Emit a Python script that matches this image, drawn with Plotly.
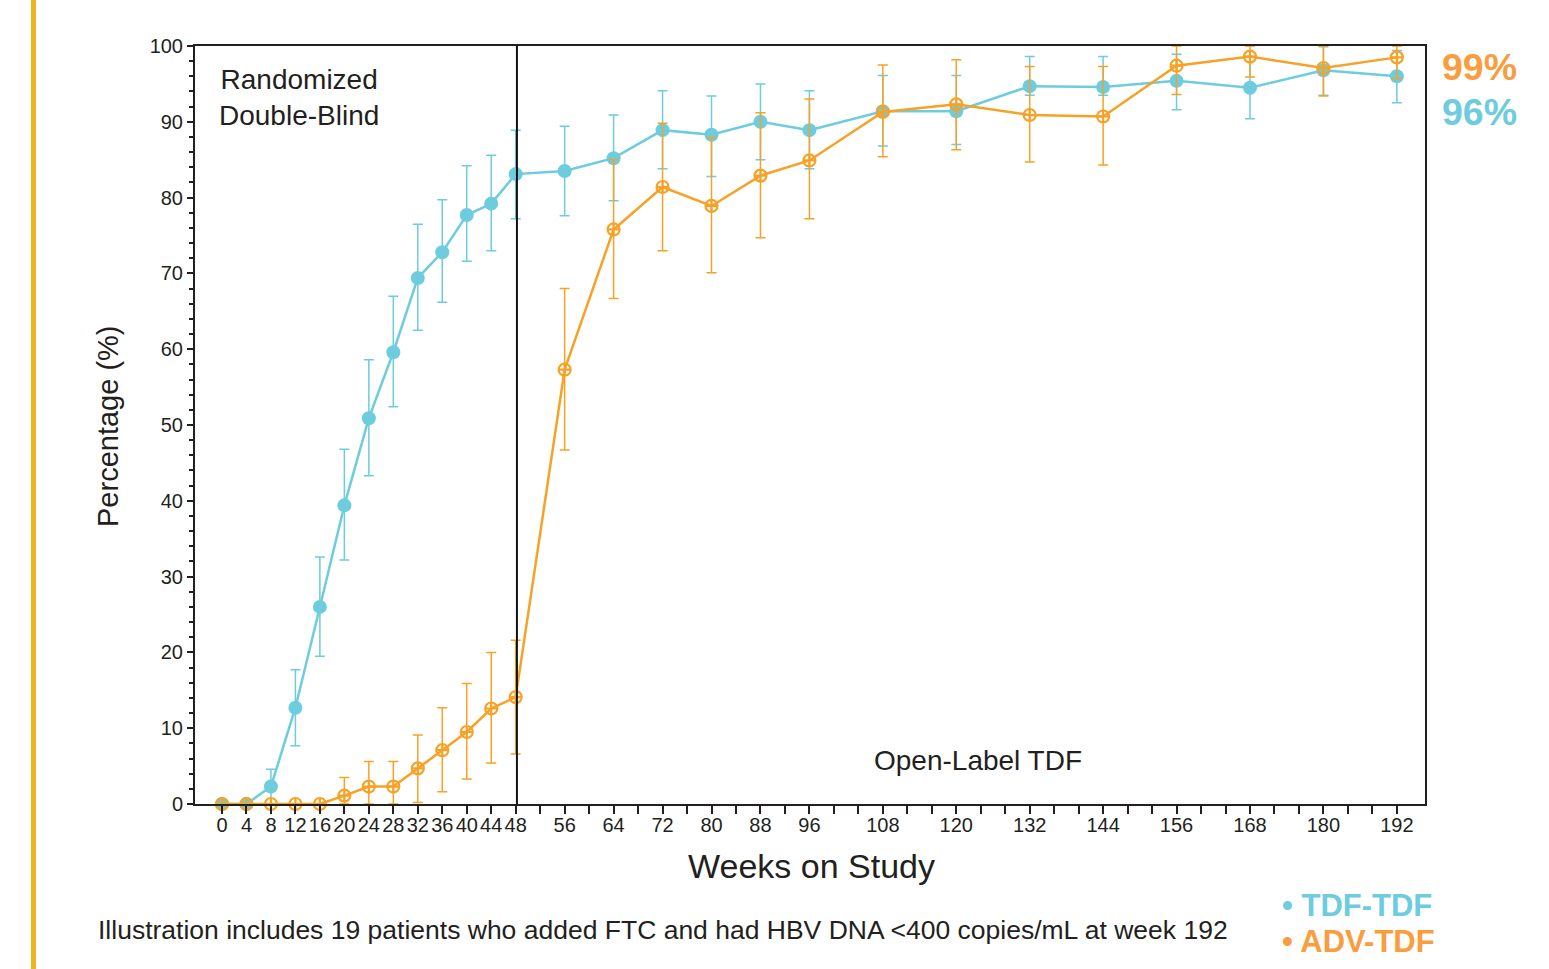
import plotly.graph_objects as go

weeks = [0, 4, 8, 12, 16, 20, 24, 28, 32, 36, 40, 44, 48, 56, 64, 72, 80, 88, 96,
         108, 120, 132, 144, 156, 168, 180, 192]

tdf_tdf = [0, 0, 2.3, 12.7, 26.0, 39.4, 50.9, 59.6, 69.4, 72.8, 77.7, 79.2, 83.1,
           83.5, 85.2, 88.9, 88.3, 90.0, 88.9, 91.4, 91.4, 94.7, 94.6, 95.4, 94.5, 96.8, 96.0]
tdf_upper = [0, 0, 4.6, 17.7, 32.6, 46.8, 58.6, 67.0, 76.5, 79.7, 84.2, 85.6, 88.9,
             89.4, 90.9, 94.1, 93.4, 95.0, 94.1, 96.1, 96.1, 98.6, 98.6, 98.9, 98.6, 99.9, 99.4]
tdf_lower = [0, 0, 0, 7.7, 19.5, 32.2, 43.3, 52.4, 62.5, 66.2, 71.6, 73.0, 77.2,
             77.6, 79.6, 83.8, 82.8, 85.0, 83.8, 86.8, 87.0, 93.5, 93.5, 91.6, 90.4, 93.5, 92.5]

adv_tdf = [0, 0, 0, 0, 0, 1.1, 2.3, 2.3, 4.7, 7.1, 9.5, 12.6, 14.1,
           57.3, 75.8, 81.4, 78.9, 82.9, 84.9, 91.3, 92.3, 90.9, 90.7, 97.4, 98.6, 97.1, 98.5]
adv_upper = [0, 0, 0, 0, 0, 3.5, 5.6, 5.6, 9.1, 12.7, 15.9, 20.0, 21.6,
             68.0, 85.0, 89.8, 87.9, 91.2, 93.0, 97.5, 98.2, 97.3, 97.3, 100, 100, 100, 100]
adv_lower = [0, 0, 0, 0, 0, 0, 0, 0, 0.2, 1.6, 3.3, 5.4, 6.6,
             46.7, 66.7, 73.0, 70.1, 74.7, 77.2, 85.4, 86.3, 84.7, 84.3, 93.6, 95.9, 93.4, 95.7]

tick_weeks = list(range(0, 193, 4))
labeled = [0, 4, 8, 12, 16, 20, 24, 28, 32, 36, 40, 44, 48, 56, 64, 72, 80, 88, 96,
           108, 120, 132, 144, 156, 168, 180, 192]
tick_text = [str(w) if w in labeled else "" for w in tick_weeks]

BLUE = "#6DCCDD"
ORANGE = "#F7A226"
ORANGE_TXT = "#F99D3E"
FONT = "Liberation Sans"
DARK = "#231F20"

fig = go.Figure()

fig.add_trace(go.Scatter(
    x=weeks, y=tdf_tdf, mode="lines+markers", name="TDF-TDF",
    line=dict(color=BLUE, width=2.5),
    marker=dict(color=BLUE, size=14, symbol="circle"),
    error_y=dict(type="data", symmetric=False,
                 array=[u - v for u, v in zip(tdf_upper, tdf_tdf)],
                 arrayminus=[v - l for v, l in zip(tdf_tdf, tdf_lower)],
                 color=BLUE, thickness=1.5, width=5),
    cliponaxis=False, showlegend=False,
))

fig.add_trace(go.Scatter(
    x=weeks, y=adv_tdf, mode="lines+markers", name="ADV-TDF",
    line=dict(color=ORANGE, width=2.5),
    marker=dict(color=ORANGE, size=12, symbol="circle-cross-open", line=dict(width=2.2, color=ORANGE)),
    error_y=dict(type="data", symmetric=False,
                 array=[u - v for u, v in zip(adv_upper, adv_tdf)],
                 arrayminus=[v - l for v, l in zip(adv_tdf, adv_lower)],
                 color=ORANGE, thickness=1.5, width=5),
    cliponaxis=False, showlegend=False,
))

L, R, T, B = 195, 124, 46, 165
W, H = 1549, 969
pw, ph = W - L - R, H - T - B

def px_x(p):
    return (p - L) / pw

def px_y(p):
    return (H - B - p) / ph

fig.update_layout(
    width=W, height=H,
    margin=dict(l=L, r=R, t=T, b=B, pad=0),
    paper_bgcolor="white", plot_bgcolor="white",
    font=dict(family=FONT, color=DARK),
    xaxis=dict(range=[-4.41, 196.6], tickmode="array", tickvals=tick_weeks, ticktext=tick_text,
               ticks="outside", ticklen=8, tickwidth=1.5, tickcolor=DARK,
               ticklabelstandoff=-6,
               showline=True, linecolor=DARK, linewidth=2, mirror=True,
               showgrid=False, zeroline=False, tickfont=dict(size=20, color=DARK, family=FONT),
               tickangle=0),
    yaxis=dict(range=[0, 100], tickmode="linear", tick0=0, dtick=10,
               ticks="outside", ticklen=6, tickwidth=1.5, tickcolor=DARK,
               minor=dict(dtick=2, ticks="outside", ticklen=4, tickwidth=1.5, tickcolor=DARK),
               showline=True, linecolor=DARK, linewidth=2, mirror=True,
               showgrid=False, zeroline=False, tickfont=dict(size=20, color=DARK, family=FONT)),
)

# Phase divider at week 48
fig.add_shape(type="line", xref="x", yref="paper", x0=48.2, x1=48.2, y0=0, y1=1,
              line=dict(color="#111111", width=2))

# Left decorative bar
fig.add_shape(type="rect", xref="paper", yref="paper",
              x0=px_x(31), x1=px_x(36), y0=px_y(969), y1=px_y(0),
              fillcolor="#EDB521", line=dict(width=0), layer="above")

ann = [
    dict(text="Randomized<br>Double-Blind", x=px_x(299), y=px_y(98), size=28),
    dict(text="Open-Label TDF", x=px_x(978), y=px_y(760), size=28),
    dict(text="Weeks on Study", x=px_x(811), y=px_y(866), size=34),
    dict(text="Illustration includes 19 patients who added FTC and had HBV DNA &lt;400 copies/mL at week 192",
         x=px_x(663), y=px_y(930), size=26.5),
]
for a in ann:
    fig.add_annotation(text=a["text"], x=a["x"], y=a["y"], xref="paper", yref="paper",
                       showarrow=False, xanchor="center", yanchor="middle",
                       font=dict(size=a["size"], color=DARK, family=FONT))

fig.add_annotation(text="Percentage (%)", x=px_x(108), y=px_y(426), xref="paper", yref="paper",
                   showarrow=False, textangle=-90, xanchor="center", yanchor="middle",
                   font=dict(size=29, color=DARK, family=FONT))

fig.add_annotation(text="<b>99%</b>", x=px_x(1440), y=px_y(67), xref="paper", yref="paper",
                   showarrow=False, xanchor="left", yanchor="middle",
                   font=dict(size=37.5, color=ORANGE_TXT, family=FONT))
fig.add_annotation(text="<b>96%</b>", x=px_x(1440), y=px_y(112), xref="paper", yref="paper",
                   showarrow=False, xanchor="left", yanchor="middle",
                   font=dict(size=37.5, color=BLUE, family=FONT))

fig.add_annotation(text="<b>• TDF-TDF</b>", x=px_x(1280), y=px_y(905), xref="paper", yref="paper",
                   showarrow=False, xanchor="left", yanchor="middle",
                   font=dict(size=31, color=BLUE, family=FONT))
fig.add_annotation(text="<b>• ADV-TDF</b>", x=px_x(1280), y=px_y(941), xref="paper", yref="paper",
                   showarrow=False, xanchor="left", yanchor="middle",
                   font=dict(size=31, color=ORANGE_TXT, family=FONT))

fig.write_html("out.html")
